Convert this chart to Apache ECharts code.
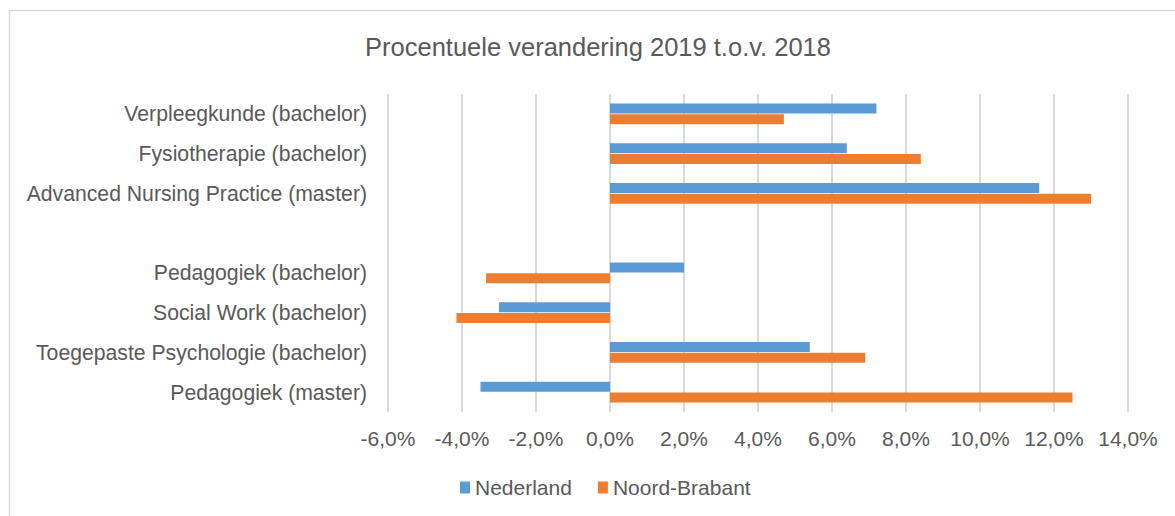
<!DOCTYPE html>
<html>
<head>
<meta charset="utf-8">
<script src="https://cdn.jsdelivr.net/npm/echarts@6/dist/echarts.min.js"></script>
<style>
  html, body { margin: 0; padding: 0; background: #fff; }
  #chart { width: 1175px; height: 516px; }
</style>
</head>
<body>
<div id="chart"></div>
<script>
var categories = [
  'Verpleegkunde (bachelor)',
  'Fysiotherapie (bachelor)',
  'Advanced Nursing Practice (master)',
  '',
  'Pedagogiek (bachelor)',
  'Social Work (bachelor)',
  'Toegepaste Psychologie (bachelor)',
  'Pedagogiek (master)'
];
var nederland = [7.2, 6.4, 11.6, '-', 2.0, -3.0, 5.4, -3.5];
var noordBrabant = [4.7, 8.4, 13.0, '-', -3.35, -4.15, 6.9, 12.5];
var chartTitle = 'Procentuele verandering 2019 t.o.v. 2018';

var font = "'Liberation Sans', Arial, sans-serif";
var textColor = '#595959';
var gridColor = '#d9d9d9';

var chart = echarts.init(document.getElementById('chart'), null, { renderer: 'svg' });
chart.setOption({
  animation: false,
  textStyle: { fontFamily: font },
  graphic: [
    {
      type: 'rect',
      silent: true,
      shape: { x: 9.5, y: 10.5, width: 1200, height: 600 },
      style: { fill: 'none', stroke: gridColor, lineWidth: 1.5 }
    },
    {
      type: 'text',
      x: 598,
      y: 47,
      style: {
        text: chartTitle,
        fill: textColor,
        font: '25.5px ' + font,
        align: 'center',
        verticalAlign: 'middle'
      }
    }
  ],
  legend: {
    data: ['Nederland', 'Noord-Brabant'],
    left: 455,
    top: 472,
    itemWidth: 10,
    itemHeight: 12,
    itemGap: 26,
    icon: 'rect',
    textStyle: { color: textColor, fontSize: 21, fontFamily: font }
  },
  grid: { left: 388, right: 47, top: 94, bottom: 104 },
  xAxis: {
    type: 'value',
    min: -6,
    max: 14,
    interval: 2,
    axisLine: { show: false },
    axisTick: { show: false },
    axisLabel: {
      color: textColor,
      fontSize: 21,
      margin: 16,
      formatter: function(v) { return v.toFixed(1).replace('.', ',') + '%'; }
    },
    splitLine: { lineStyle: { color: gridColor, width: 2 } }
  },
  yAxis: {
    type: 'category',
    data: categories,
    inverse: true,
    axisLine: { show: false },
    axisTick: { show: false },
    axisLabel: { color: textColor, fontSize: 21.2, margin: 21 },
    splitLine: { show: false }
  },
  series: [
    {
      name: 'Nederland',
      type: 'bar',
      data: nederland,
      barWidth: 10,
      barGap: '8%',
      itemStyle: { color: '#5b9bd5' }
    },
    {
      name: 'Noord-Brabant',
      type: 'bar',
      data: noordBrabant,
      barWidth: 10,
      barGap: '8%',
      itemStyle: { color: '#ed7d31' }
    }
  ]
});
window.addEventListener('resize', function() { chart.resize(); });
</script>
</body>
</html>
